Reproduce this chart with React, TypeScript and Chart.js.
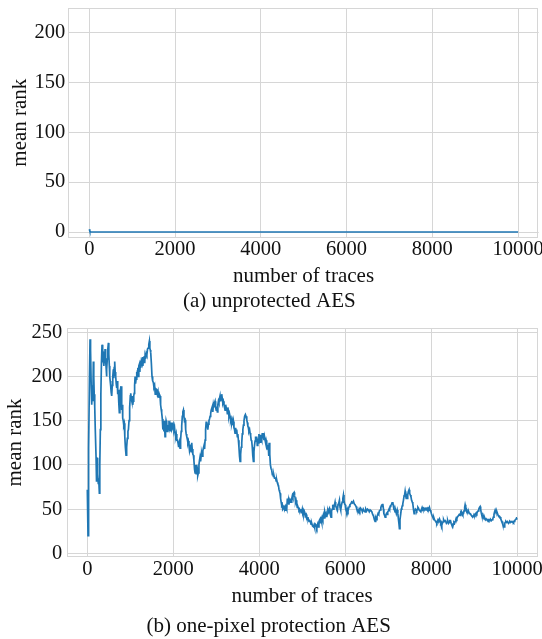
import React, { useEffect, useRef } from "react";
import { Chart, registerables } from "chart.js";

Chart.register(...registerables);

// ---- data ----
const xTickValues = [0, 2000, 4000, 6000, 8000, 10000];
const yTickValuesTop = [0, 50, 100, 150, 200];
const yTickValuesBottom = [0, 50, 100, 150, 200, 250];

// (a) unprotected AES: [number of traces, mean rank]
const seriesTop: [number, number][] = [
  [0, 2.7], [10, 1.2], [25, 0.3], [50, 0], [100, 0], [10000, 0],
];

// (b) one-pixel protection AES: [number of traces, mean rank]
const seriesBottom: [number, number][] = [
  [0, 72], [16, 20], [30, 120], [50, 200], [63, 242], [75, 230], [90, 190], [102, 168], [115, 185], [128, 172],
  [140, 217], [150, 200], [160, 180], [172, 166], [185, 140], [203, 109], [210, 95], [218, 81], [226, 100], [235, 108],
  [245, 90], [255, 79], [265, 85], [280, 68], [290, 100], [303, 140], [315, 180], [328, 215], [342, 236], [352, 228],
  [362, 220], [373, 223], [385, 212], [395, 228], [405, 215], [412, 231], [420, 222], [428, 218], [435, 212], [445, 200],
  [455, 208], [465, 220], [475, 230], [490, 238], [500, 225], [512, 212], [522, 200], [532, 195], [544, 189], [555, 182],
  [567, 178], [580, 190], [592, 200], [606, 208], [615, 198], [625, 210], [637, 217], [648, 205], [660, 200], [672, 192],
  [684, 187], [695, 195], [707, 180], [720, 185], [732, 170], [745, 159], [758, 175], [770, 185], [784, 189], [795, 175],
  [805, 162], [815, 168], [823, 153], [835, 150], [848, 145], [860, 147], [872, 132], [885, 120], [901, 111], [915, 120],
  [930, 130], [945, 138], [956, 140], [970, 150], [985, 165], [1000, 178], [1010, 181], [1022, 175], [1035, 172], [1047, 178],
  [1057, 168], [1068, 172], [1080, 178], [1090, 181], [1100, 190], [1112, 200], [1122, 192], [1134, 197], [1145, 205], [1155, 198],
  [1165, 206], [1175, 210], [1185, 200], [1198, 212], [1211, 214], [1222, 205], [1234, 218], [1246, 210], [1257, 217], [1270, 215],
  [1282, 222], [1293, 212], [1304, 221], [1315, 216], [1325, 223], [1335, 215], [1343, 223], [1355, 220], [1370, 226], [1385, 224],
  [1400, 231], [1415, 232], [1430, 236], [1444, 240], [1455, 232], [1465, 230], [1475, 227], [1490, 215], [1505, 200], [1520, 195],
  [1537, 193], [1550, 188], [1565, 190], [1580, 180], [1595, 186], [1615, 185], [1630, 180], [1645, 183], [1660, 176], [1676, 180],
  [1692, 178], [1705, 168], [1718, 163], [1730, 159], [1745, 152], [1758, 140], [1770, 145], [1782, 138], [1795, 150], [1808, 132],
  [1820, 140], [1833, 150], [1847, 147], [1860, 138], [1872, 145], [1886, 140], [1900, 150], [1912, 142], [1925, 145], [1940, 138],
  [1955, 148], [1970, 140], [1987, 142], [2000, 145], [2015, 140], [2028, 143], [2041, 136], [2055, 132], [2068, 135], [2082, 128],
  [2095, 128], [2110, 125], [2125, 120], [2140, 125], [2157, 119], [2170, 128], [2184, 138], [2196, 144], [2210, 155], [2222, 160],
  [2235, 162], [2248, 155], [2260, 150], [2274, 151], [2288, 140], [2300, 135], [2313, 132], [2326, 130], [2340, 125], [2351, 127],
  [2365, 122], [2378, 116], [2390, 119], [2405, 123], [2418, 115], [2429, 125], [2440, 118], [2455, 112], [2468, 111], [2480, 105],
  [2495, 95], [2507, 91], [2520, 100], [2532, 90], [2545, 100], [2558, 96], [2570, 88], [2584, 91], [2597, 100], [2610, 105],
  [2623, 109], [2636, 104], [2650, 112], [2662, 113], [2675, 110], [2688, 116], [2700, 119], [2715, 122], [2728, 118], [2740, 128],
  [2752, 140], [2765, 148], [2778, 149], [2790, 145], [2803, 140], [2817, 146], [2830, 150], [2843, 152], [2856, 155], [2870, 158],
  [2882, 162], [2895, 162], [2908, 166], [2920, 160], [2933, 168], [2945, 165], [2958, 170], [2972, 172], [2985, 165], [2998, 162],
  [3011, 166], [3025, 160], [3037, 168], [3050, 172], [3063, 170], [3075, 175], [3088, 178], [3100, 172], [3113, 176], [3127, 180],
  [3140, 175], [3153, 170], [3166, 172], [3180, 168], [3192, 165], [3205, 162], [3218, 168], [3230, 165], [3244, 164], [3258, 158],
  [3270, 165], [3282, 161], [3295, 155], [3308, 158], [3321, 155], [3335, 150], [3347, 152], [3360, 147], [3373, 150], [3386, 145],
  [3399, 149], [3412, 142], [3425, 140], [3437, 136], [3450, 142], [3463, 138], [3476, 140], [3490, 132], [3502, 135], [3515, 128],
  [3528, 120], [3541, 110], [3554, 104], [3567, 112], [3580, 120], [3593, 125], [3606, 135], [3619, 140], [3632, 145], [3645, 150],
  [3660, 155], [3678, 157], [3692, 155], [3710, 151], [3722, 148], [3735, 144], [3748, 142], [3760, 138], [3775, 140], [3787, 136],
  [3800, 133], [3812, 128], [3825, 127], [3838, 120], [3851, 110], [3864, 104], [3877, 115], [3890, 122], [3903, 127], [3915, 132],
  [3928, 128], [3941, 132], [3954, 122], [3967, 130], [3980, 125], [3993, 135], [4006, 128], [4019, 134], [4032, 125], [4045, 130],
  [4058, 128], [4071, 136], [4084, 130], [4097, 136], [4110, 128], [4122, 132], [4135, 128], [4148, 125], [4160, 128], [4174, 125],
  [4188, 118], [4200, 120], [4210, 121], [4222, 110], [4230, 125], [4245, 112], [4260, 100], [4275, 96], [4290, 94], [4305, 89],
  [4317, 90], [4329, 87], [4342, 88], [4355, 85], [4368, 85], [4380, 86], [4393, 82], [4407, 83], [4420, 80], [4433, 78],
  [4446, 77], [4460, 72], [4472, 70], [4484, 68], [4497, 62], [4510, 58], [4523, 54], [4535, 55], [4548, 50], [4562, 51],
  [4575, 54], [4588, 50], [4600, 52], [4612, 48], [4626, 52], [4640, 50], [4654, 62], [4666, 56], [4678, 60], [4690, 55],
  [4703, 60], [4717, 58], [4730, 62], [4743, 58], [4756, 62], [4770, 65], [4783, 63], [4795, 68], [4811, 69], [4822, 65],
  [4834, 63], [4845, 58], [4857, 60], [4873, 55], [4885, 52], [4898, 53], [4912, 51], [4925, 49], [4937, 50], [4950, 48],
  [4962, 50], [4975, 46], [4990, 47], [5002, 50], [5015, 46], [5028, 48], [5040, 44], [5053, 47], [5067, 45], [5080, 43],
  [5093, 44], [5106, 41], [5120, 40], [5133, 41], [5145, 38], [5158, 36], [5170, 37], [5190, 36], [5205, 33], [5222, 34],
  [5240, 31], [5261, 30], [5275, 32], [5290, 29], [5305, 33], [5323, 32], [5340, 29], [5360, 33], [5377, 30], [5390, 36],
  [5405, 38], [5416, 39], [5430, 34], [5442, 38], [5455, 35], [5468, 40], [5480, 38], [5494, 43], [5508, 40], [5520, 44],
  [5530, 47], [5545, 43], [5558, 45], [5571, 41], [5585, 45], [5598, 48], [5610, 46], [5622, 50], [5633, 51], [5645, 46],
  [5658, 43], [5670, 41], [5683, 48], [5697, 50], [5711, 55], [5725, 50], [5738, 52], [5752, 55], [5765, 58], [5778, 54],
  [5792, 52], [5806, 50], [5820, 49], [5833, 55], [5847, 56], [5866, 60], [5880, 52], [5890, 49], [5900, 49], [5915, 55],
  [5930, 58], [5945, 62], [5959, 66], [5972, 60], [5986, 56], [6000, 55], [6012, 50], [6024, 48], [6036, 47], [6050, 50],
  [6065, 48], [6080, 51], [6095, 53], [6110, 55], [6130, 56], [6150, 58], [6170, 57], [6192, 59], [6210, 56], [6230, 55],
  [6254, 53], [6270, 50], [6290, 49], [6308, 47], [6325, 50], [6340, 48], [6360, 51], [6386, 49], [6400, 47], [6420, 50],
  [6440, 48], [6463, 47], [6480, 50], [6500, 48], [6520, 50], [6541, 49], [6560, 47], [6580, 49], [6600, 48], [6619, 47],
  [6640, 44], [6660, 42], [6680, 38], [6696, 36], [6710, 40], [6725, 38], [6740, 42], [6751, 43], [6765, 45], [6780, 44],
  [6795, 48], [6813, 49], [6830, 52], [6845, 54], [6860, 53], [6875, 56], [6890, 50], [6900, 45], [6915, 43], [6929, 41],
  [6945, 43], [6960, 45], [6975, 44], [6990, 47], [7005, 48], [7020, 50], [7033, 49], [7045, 53], [7060, 54], [7075, 55],
  [7090, 57], [7107, 58], [7120, 54], [7133, 50], [7147, 49], [7161, 47], [7175, 48], [7190, 45], [7210, 49], [7225, 45],
  [7240, 38], [7252, 33], [7262, 28], [7275, 38], [7293, 45], [7305, 50], [7318, 52], [7330, 54], [7340, 56], [7355, 60],
  [7370, 65], [7382, 66], [7394, 70], [7408, 65], [7420, 62], [7430, 64], [7440, 62], [7455, 66], [7470, 70], [7487, 72],
  [7500, 68], [7515, 66], [7530, 64], [7545, 60], [7560, 58], [7573, 56], [7588, 50], [7604, 45], [7618, 48], [7633, 50],
  [7650, 49], [7665, 48], [7680, 50], [7692, 52], [7705, 51], [7720, 49], [7740, 48], [7760, 47], [7775, 50], [7790, 52],
  [7805, 50], [7821, 51], [7840, 49], [7860, 51], [7880, 50], [7899, 51], [7915, 49], [7930, 51], [7945, 50], [7960, 52],
  [7976, 49], [7990, 48], [8005, 45], [8020, 43], [8038, 41], [8052, 39], [8065, 40], [8078, 38], [8092, 37], [8105, 36],
  [8118, 35], [8131, 34], [8145, 36], [8160, 38], [8177, 37], [8194, 39], [8208, 37], [8222, 34], [8235, 35], [8248, 32],
  [8262, 34], [8278, 36], [8290, 38], [8305, 36], [8325, 37], [8340, 36], [8355, 34], [8370, 35], [8385, 37], [8403, 34],
  [8418, 35], [8433, 37], [8450, 37], [8465, 34], [8480, 32], [8503, 30], [8518, 33], [8530, 35], [8545, 34], [8558, 36],
  [8572, 38], [8585, 40], [8598, 39], [8612, 41], [8625, 42], [8640, 42], [8655, 44], [8674, 43], [8690, 45], [8700, 44],
  [8710, 47], [8722, 46], [8737, 44], [8752, 45], [8765, 48], [8780, 52], [8791, 55], [8805, 52], [8818, 50], [8832, 48],
  [8845, 47], [8860, 46], [8875, 47], [8890, 45], [8907, 45], [8920, 44], [8935, 43], [8950, 42], [8969, 41], [8985, 42],
  [9000, 44], [9020, 43], [9035, 45], [9050, 46], [9063, 45], [9078, 47], [9093, 48], [9108, 50], [9125, 52], [9140, 53],
  [9152, 50], [9165, 46], [9179, 43], [9193, 42], [9208, 40], [9220, 41], [9233, 39], [9248, 40], [9263, 38], [9280, 39],
  [9295, 38], [9310, 37], [9325, 38], [9340, 37], [9356, 38], [9373, 37], [9388, 38], [9403, 37], [9420, 38], [9435, 39],
  [9448, 41], [9462, 44], [9477, 47], [9490, 49], [9503, 47], [9517, 46], [9530, 47], [9544, 45], [9558, 43], [9572, 42],
  [9588, 42], [9605, 41], [9620, 39], [9635, 37], [9650, 36], [9665, 33], [9680, 31], [9698, 30], [9712, 34], [9726, 35],
  [9740, 36], [9755, 35], [9770, 36], [9785, 35], [9800, 34], [9815, 35], [9830, 36], [9848, 35], [9862, 36], [9878, 36],
  [9892, 35], [9905, 36], [9918, 35], [9931, 36], [9945, 37], [9960, 38], [9978, 39], [9990, 40], [10000, 40],
];

const FONT = "'Liberation Serif', 'Times New Roman', serif";
const TEXT = "#111111";
const GRID = "#d6d6d6";
const LINE = "#1f77b4";
const TICK_SIZE = 20.5;
const LABEL_SIZE = 21;

type Spec = {
  series: [number, number][];
  yTicks: number[];
  yMin: number;
  yMax: number;
  xMin: number;
  xMax: number;
  caption: string;
  height: number;
  padTop: number;
  padRight: number;
  yAxisWidth: number;
  yTickPad: number;
  yTitlePad: number;
  xAxisHeight: number;
  xTickPad: number;
  capPadTop: number;
  capPadBottom: number;
};

const frame = {
  id: "frame",
  afterDatasetsDraw(chart: any) {
    const { ctx, chartArea: a } = chart;
    ctx.save();
    ctx.strokeStyle = GRID;
    ctx.lineWidth = 1;
    ctx.strokeRect(Math.round(a.left) + 0.5, Math.round(a.top) + 0.5, Math.round(a.right - a.left) - 1, Math.round(a.bottom - a.top));
    ctx.restore();
  },
};

function zeroPad(s: any) {
  s.paddingTop = 0;
  s.paddingBottom = 0;
  s.paddingLeft = 0;
  s.paddingRight = 0;
}

function Panel({ spec }: { spec: Spec }) {
  const ref = useRef<HTMLCanvasElement>(null);
  useEffect(() => {
    if (!ref.current) return;
    const data = spec.series.map(([t, r]) => ({ x: t, y: r }));
    const chart = new Chart(ref.current, {
      type: "line",
      data: {
        datasets: [
          {
            data,
            borderColor: LINE,
            borderWidth: 1.7,
            pointRadius: 0,
            tension: 0,
            fill: false,
          },
        ],
      },
      plugins: [frame],
      options: {
        animation: false,
        responsive: false,
        events: [],
        layout: { padding: { top: spec.padTop, right: spec.padRight, left: 0, bottom: 0 } },
        plugins: {
          legend: { display: false },
          tooltip: { enabled: false },
          title: {
            display: true,
            position: "bottom",
            text: spec.caption,
            color: TEXT,
            font: { family: FONT, size: LABEL_SIZE, weight: "normal", lineHeight: 1.2 },
            padding: { top: spec.capPadTop, bottom: spec.capPadBottom },
          },
        },
        scales: {
          x: {
            type: "linear",
            min: spec.xMin,
            max: spec.xMax,
            afterBuildTicks: (s: any) => {
              s.ticks = xTickValues.map((v) => ({ value: v }));
            },
            afterFit: (s: any) => {
              s.height = spec.xAxisHeight;
              zeroPad(s);
            },
            grid: { color: GRID, lineWidth: 1, drawTicks: false },
            border: { display: false },
            ticks: {
              color: TEXT,
              padding: spec.xTickPad,
              maxRotation: 0,
              autoSkip: false,
              font: { family: FONT, size: TICK_SIZE, lineHeight: 1.2 },
              callback: (v: any) => String(v),
            },
            title: {
              display: true,
              text: "number of traces",
              color: TEXT,
              font: { family: FONT, size: LABEL_SIZE, lineHeight: 1.2 },
              padding: { top: 0, bottom: 0 },
            },
          },
          y: {
            type: "linear",
            min: spec.yMin,
            max: spec.yMax,
            afterBuildTicks: (s: any) => {
              s.ticks = spec.yTicks.map((v) => ({ value: v }));
            },
            afterFit: (s: any) => {
              s.width = spec.yAxisWidth;
              zeroPad(s);
            },
            grid: { color: GRID, lineWidth: 1, drawTicks: false },
            border: { display: false },
            ticks: {
              color: TEXT,
              padding: spec.yTickPad,
              autoSkip: false,
              font: { family: FONT, size: TICK_SIZE, lineHeight: 1.2 },
              callback: (v: any) => String(v),
            },
            title: {
              display: true,
              text: "mean rank",
              color: TEXT,
              font: { family: FONT, size: LABEL_SIZE, lineHeight: 1.2 },
              padding: { top: spec.yTitlePad, bottom: 0 },
            },
          },
        },
      },
    } as any);
    return () => chart.destroy();
  }, [spec]);
  return <canvas ref={ref} width={542} height={spec.height} style={{ display: "block", width: 542, height: spec.height }} />;
}

const topSpec: Spec = {
  series: seriesTop,
  yTicks: yTickValuesTop,
  yMin: -5,
  yMax: 224,
  xMin: -490,
  xMax: 10480,
  caption: "(a) unprotected AES",
  height: 320,
  padTop: 8.3,
  padRight: 3.3,
  yAxisWidth: 68.3,
  yTickPad: 3,
  yTitlePad: 8,
  xAxisHeight: 51.8,
  xTickPad: 0,
  capPadTop: 0,
  capPadBottom: 6,
};

const bottomSpec: Spec = {
  series: seriesBottom,
  yTicks: yTickValuesBottom,
  yMin: -3.8,
  yMax: 254.5,
  xMin: -480,
  xMax: 10470,
  caption: "(b) one-pixel protection AES",
  height: 319,
  padTop: 8.3,
  padRight: 4.7,
  yAxisWidth: 66.7,
  yTickPad: 4.5,
  yTitlePad: 2.8,
  xAxisHeight: 52.1,
  xTickPad: 0.8,
  capPadTop: 4.7,
  capPadBottom: 0.3,
};

export default function App() {
  return (
    <div style={{ position: "absolute", left: 0, top: 0, width: 542, height: 639, background: "#fff" }}>
      <Panel spec={topSpec} />
      <Panel spec={bottomSpec} />
    </div>
  );
}
